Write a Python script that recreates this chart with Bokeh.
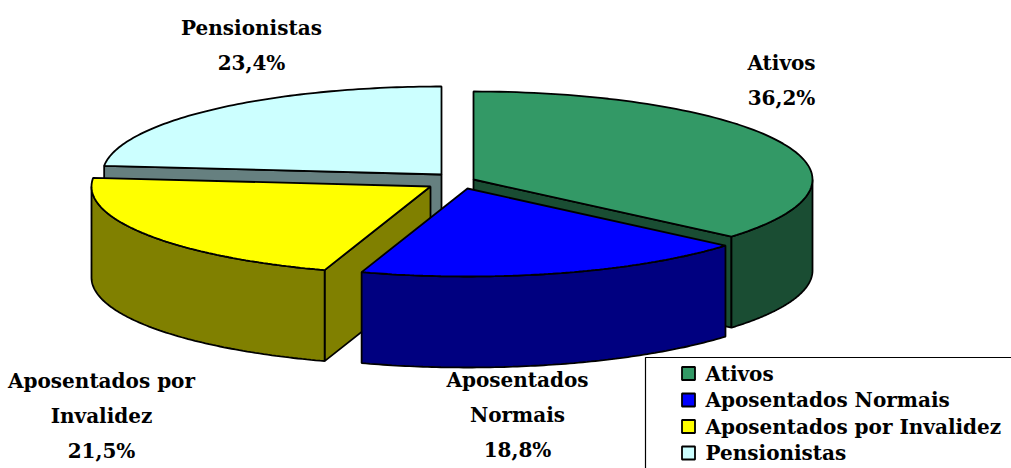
import numpy as np
from bokeh.plotting import figure
from bokeh.core.properties import value
from bokeh.embed import file_html
from bokeh.resources import INLINE

categories = ["Ativos", "Aposentados Normais", "Aposentados por Invalidez", "Pensionistas"]
shares = [36.2, 18.8, 21.5, 23.4]
slice_labels = [["Ativos", "36,2%"], ["Aposentados", "Normais", "18,8%"],
                ["Aposentados por", "Invalidez", "21,5%"], ["Pensionistas", "23,4%"]]
top_colors = ["#339966", "#0000FF", "#FFFF00", "#CCFFFF"]
side_colors = ["#1A4D33", "#000080", "#808000", "#668080"]

# layout (page pixels)
apex = {"Ativos": (473, 179), "Aposentados Normais": (467, 188),
        "Aposentados por Invalidez": (430, 186), "Pensionistas": (441, 174)}
RX, RY, DEPTH = 339, 88, 91
label_anchor = {"Ativos": (781, 62), "Aposentados Normais": (517, 379),
                "Aposentados por Invalidez": (101, 380), "Pensionistas": (251, 27)}
label_step = 35
FONT = "DejaVu Serif"
FONT_SIZE = "20px"
LEG_X, LEG_TOP, LEG_ROW0, LEG_STEP = 645, 357, 373, 26.5

p = figure(width=1011, height=468, x_range=(0, 1011), y_range=(468, 0),
           output_backend="svg", toolbar_location=None, min_border=0,
           outline_line_color=None, background_fill_color="white")
p.axis.visible = False
p.grid.visible = False

bounds = np.concatenate([[0], np.cumsum(shares)]) / sum(shares) * 2 * np.pi


def rim(c, a, b, n=90):
    t = np.linspace(a, b, n)
    return c[0] + RX * np.sin(t), c[1] - RY * np.cos(t)


def draw_wall(xs, ys, color):
    xs, ys = np.asarray(xs), np.asarray(ys)
    p.patch(np.r_[xs, xs[::-1]], np.r_[ys, ys[::-1] + DEPTH],
            fill_color=color, line_color="black", line_width=1.8)


# paint order: back slice first, front slice last
for i in [3, 0, 2, 1]:
    name = categories[i]
    c = apex[name]
    a, b = bounds[i], bounds[i + 1]
    # radial walls facing the viewer
    if i == 3:
        x, y = rim(c, a, a, 2)
        draw_wall([x[0], c[0]], [y[0], c[1]], side_colors[i])
    if i == 0:
        x, y = rim(c, b, b, 2)
        draw_wall([c[0], x[0]], [c[1], y[0]], side_colors[i])
    if i == 2:
        x, y = rim(c, a, a, 2)
        draw_wall([c[0], x[0]], [c[1], y[0]], side_colors[i])
    # outer curved wall, only the part that faces the viewer
    lo, hi = max(a, np.pi / 2), min(b, 3 * np.pi / 2)
    if lo < hi:
        x, y = rim(c, lo, hi)
        draw_wall(x, y, side_colors[i])
    x, y = rim(c, a, b)
    p.patch(np.r_[c[0], x], np.r_[c[1], y], fill_color=top_colors[i],
            line_color="black", line_width=1.8)

# legend box: its right and bottom sides lie beyond the picture
p.quad(left=[LEG_X], right=[1030], top=[LEG_TOP], bottom=[490],
       fill_color="white", line_color="black", line_width=1.2)

for name, lines in zip(categories, slice_labels):
    ax, ay = label_anchor[name]
    p.text([ax] * len(lines), [ay + k * label_step for k in range(len(lines))], text=lines,
           text_font=value(FONT), text_font_style="bold", text_font_size=FONT_SIZE,
           text_align="center", text_baseline="middle", text_color="black")

rows = [LEG_ROW0 + k * LEG_STEP for k in range(len(categories))]
p.rect(x=[LEG_X + 43] * len(rows), y=rows, width=13, height=13, fill_color=top_colors,
       line_color="black", line_width=1.8)
p.text(x=[LEG_X + 60] * len(rows), y=rows, text=categories,
       text_font=value(FONT), text_font_style="bold", text_font_size=FONT_SIZE,
       text_align="left", text_baseline="middle", text_color="black")

open("out.html", "w").write(file_html(p, INLINE))
